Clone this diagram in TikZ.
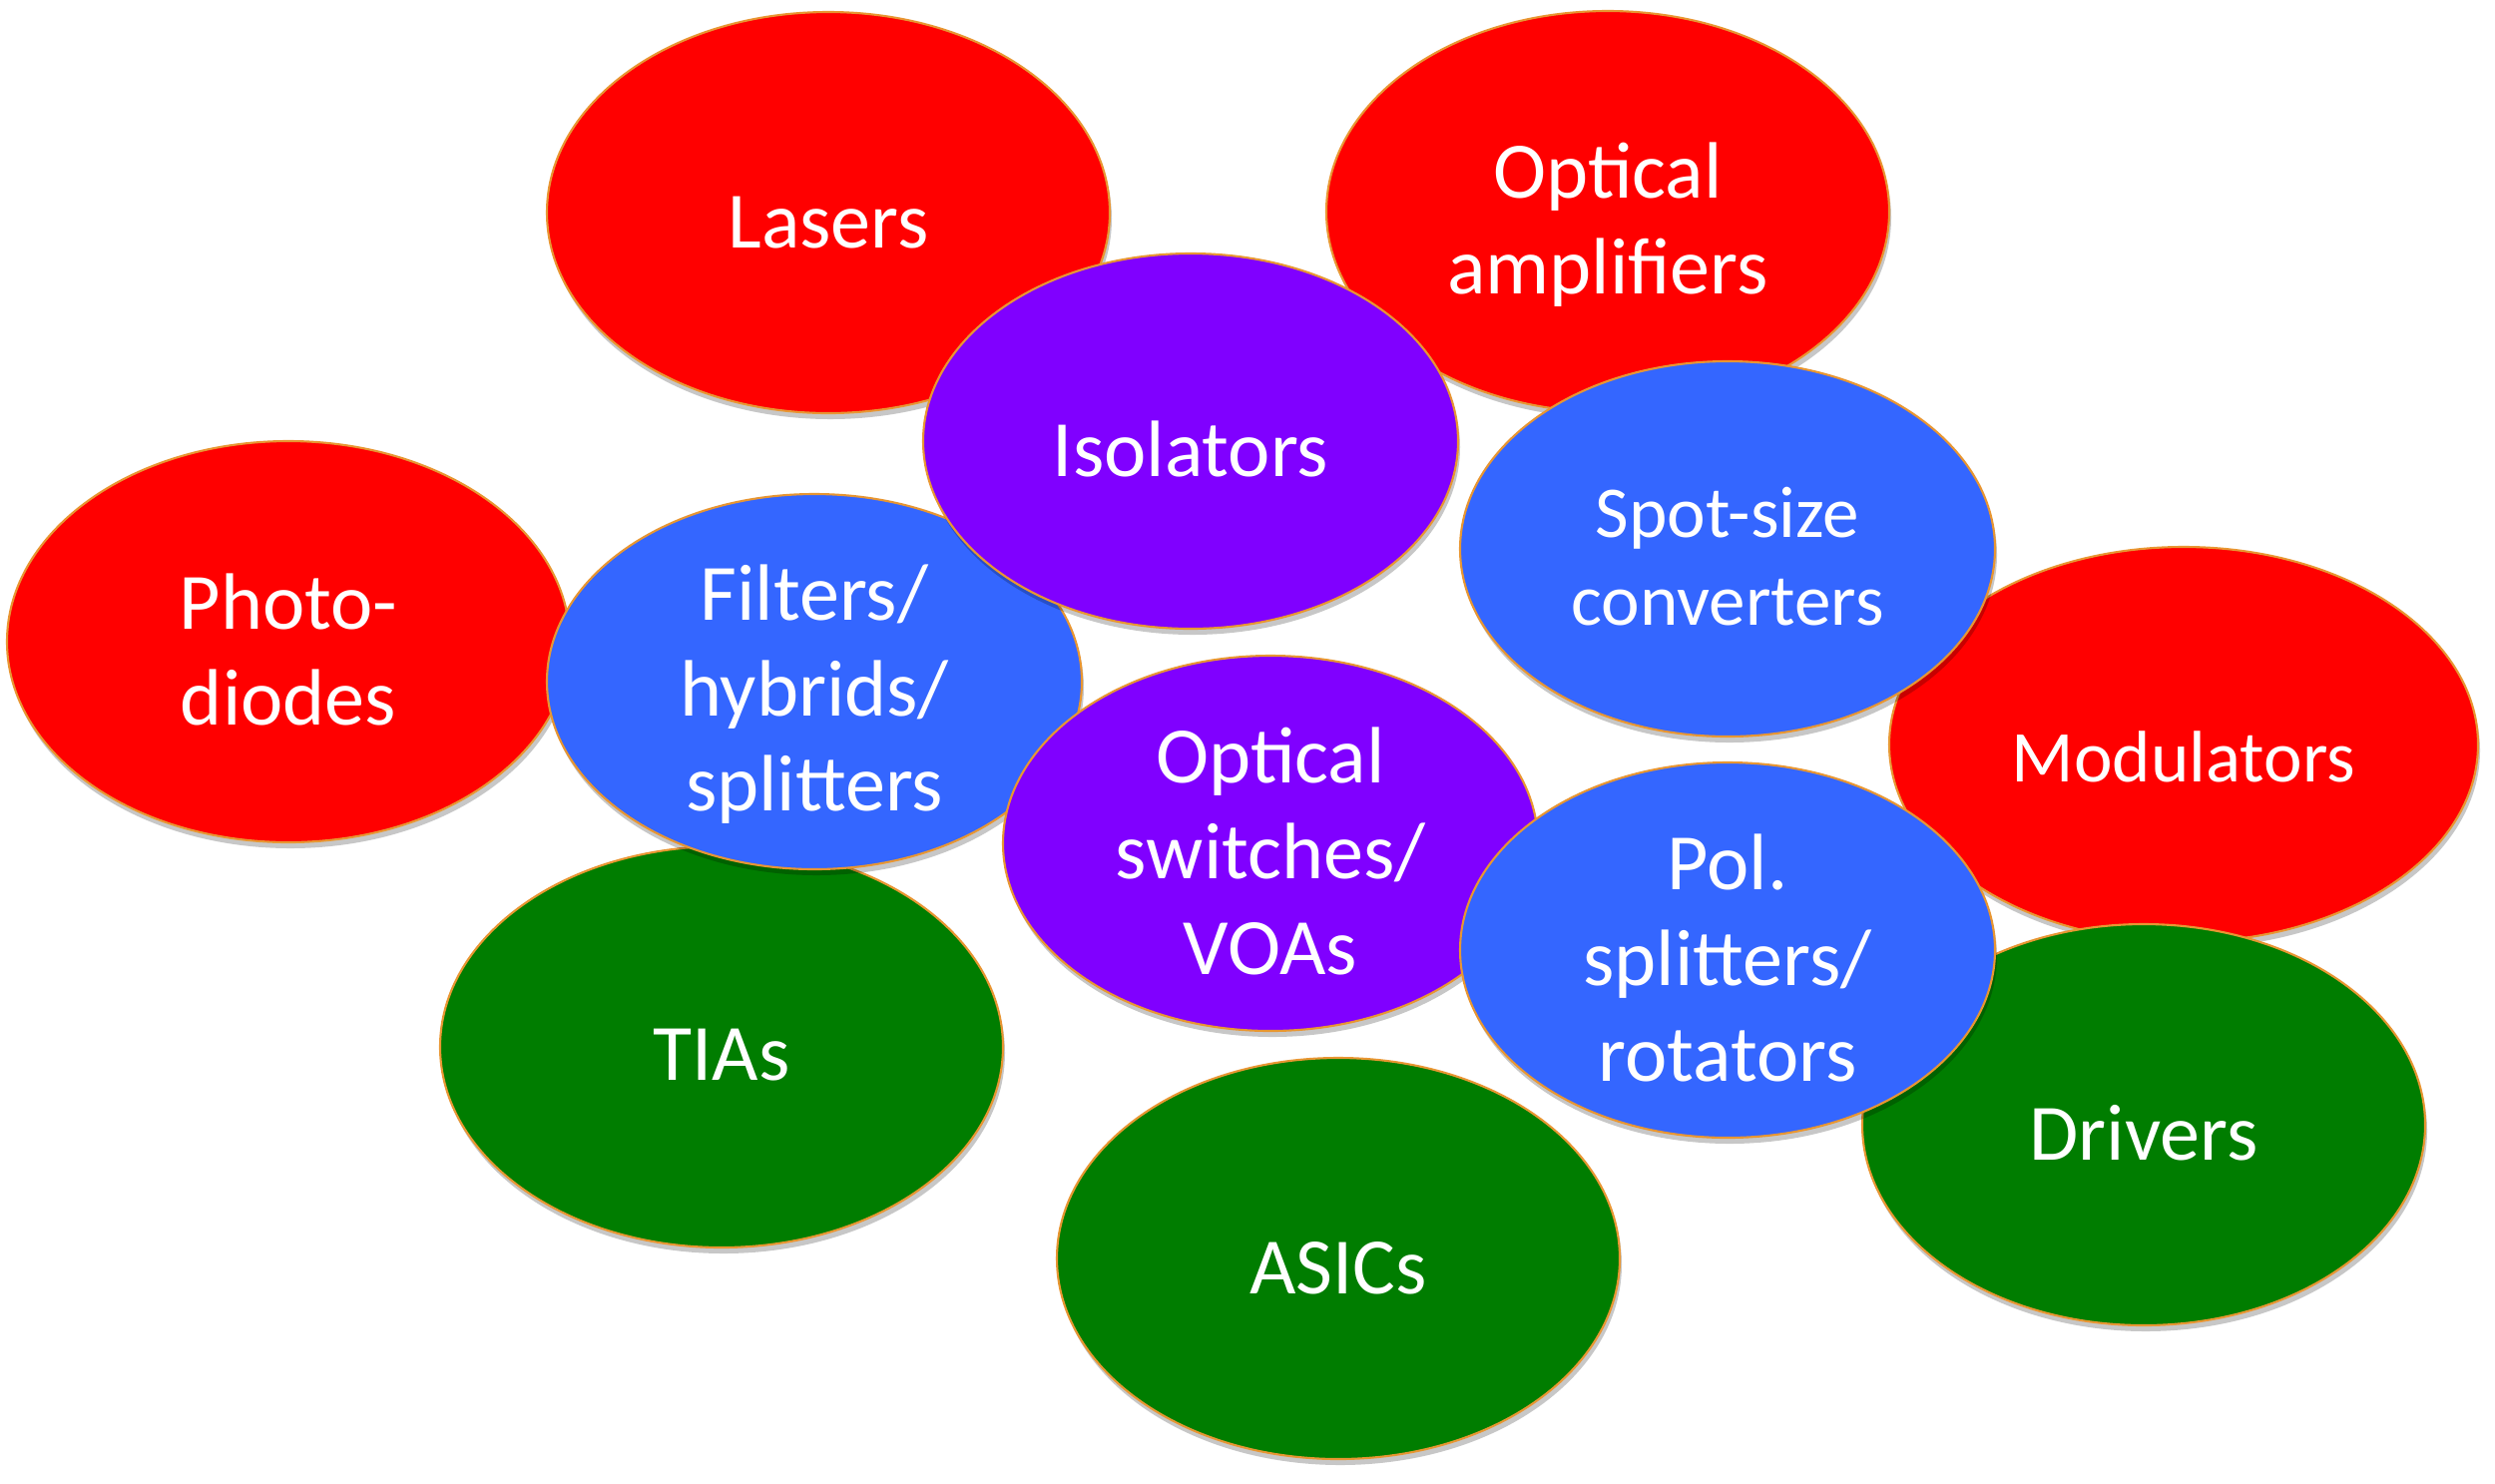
\documentclass[tikz,border=0pt]{standalone}
\usepackage{fontspec}
\setmainfont{Carlito}
\usepackage{tikz}
\usetikzlibrary{shapes.geometric,shadows}

\definecolor{bubred}{RGB}{255,0,0}
\definecolor{bubgreen}{RGB}{0,125,0}
\definecolor{bubblue}{RGB}{52,102,255}
\definecolor{bubpurple}{RGB}{128,0,255}
\definecolor{bubedge}{RGB}{232,150,50}

\begin{document}
\begin{tikzpicture}[
    bubble/.style={ellipse, draw=bubedge, line width=0.6pt, inner sep=0pt,
      fill=#1, drop shadow={shadow xshift=0.02cm, shadow yshift=-0.06cm,
      opacity=0.22, fill=black}},
    big/.style={minimum width=5.64cm, minimum height=4.02cm},
    small/.style={minimum width=5.36cm, minimum height=3.76cm},
    txt/.style={text=white, align=center, inner sep=0pt, yshift=-0.08cm,
      font=\fontsize{22.8}{27.2}\selectfont},
    txtsm/.style={txt, font=\fontsize{20.8}{25}\selectfont}]
  \useasboundingbox (0,0) rectangle (25,-14.86);
  % --- outer ring: sources, detectors, electronics -----------------------
  \node[bubble=bubred, big] (lasers) at (8.30,-2.13) {};
  \node[bubble=bubred, big] (amps) at (16.11,-2.12) {};
  \node[bubble=bubred, big] (photo) at (2.89,-6.43) {};
  \node[bubble=bubred, big, minimum width=5.90cm, minimum height=3.96cm]
    (mods) at (21.88,-7.46) {};
  \node[bubble=bubgreen, big] (tias) at (7.23,-10.49) {};
  \node[bubble=bubgreen, big] (drivers) at (21.48,-11.27) {};
  \node[bubble=bubgreen, big] (asics) at (13.41,-12.61) {};
  % --- inner ring: passive and active optics -----------------------------
  \node[bubble=bubblue, small] (filters) at (8.16,-6.83) {};
  \node[bubble=bubpurple, small] (isol) at (11.93,-4.42) {};
  \node[bubble=bubpurple, small] (switches) at (12.73,-8.45) {};
  \node[bubble=bubblue, small] (spot) at (17.31,-5.50) {};
  \node[bubble=bubblue, small] (pol) at (17.31,-9.52) {};
  % --- labels ------------------------------------------------------------
  \node[txt, yshift=-0.02cm] (t-lasers) at (lasers) {Lasers};
  \node[txt, yshift=-0.05cm] (t-amps) at (amps) {Optical\\amplifiers};
  \node[txt] (t-photo) at (photo) {Photo-\\diodes};
  \node[txtsm, yshift=-0.04cm] (t-mods) at (mods) {Modulators};
  \node[txt] (t-tias) at (tias) {TIAs};
  \node[txt] (t-drivers) at (drivers) {Drivers};
  \node[txt, yshift=-0.02cm] (t-asics) at (asics) {ASICs};
  \node[txt, yshift=-0.05cm] (t-filters) at (filters) {Filters/\\hybrids/\\splitters};
  \node[txt] (t-isol) at (isol) {Isolators};
  \node[txt] (t-switches) at (switches) {Optical\\switches/\\VOAs};
  \node[txtsm] (t-spot) at (spot) {Spot-size\\converters};
  \node[txt] (t-pol) at (pol) {Pol.\\splitters/\\rotators};
\end{tikzpicture}
\end{document}
